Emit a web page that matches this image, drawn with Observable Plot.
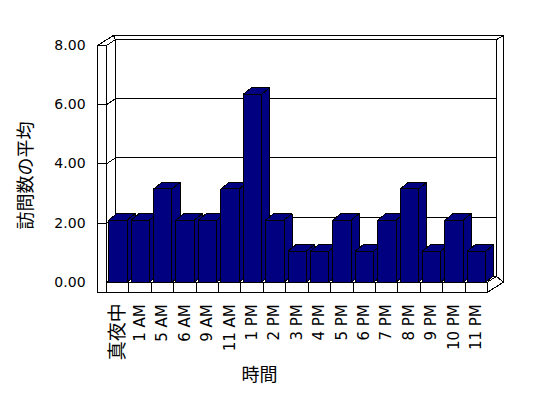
<!DOCTYPE html>
<html><head><meta charset="utf-8">
<script src="https://cdn.jsdelivr.net/npm/d3@7"></script>
<script src="https://cdn.jsdelivr.net/npm/@observablehq/plot@0.6"></script>
<style>body{margin:0;background:#fff}</style>
</head><body><div id="chart"></div>
<script>
const categories = ["真夜中","1 AM","5 AM","6 AM","9 AM","11 AM","1 PM","2 PM","3 PM","4 PM","5 PM","6 PM","7 PM","8 PM","9 PM","10 PM","11 PM"];
const visits = [2.1,2.1,3.15,2.1,2.1,3.15,6.35,2.1,1.05,1.05,2.1,1.05,2.1,3.15,1.05,2.1,1.05];
const yTicks = [0,2,4,6,8];
const xTitle = "時間";
const yTitle = "訪問数の平均";

const NAVY = "#000080";
const LATIN = "'DejaVu Sans', sans-serif";
const CJK = "'Noto Sans CJK JP', sans-serif";
// 3D depth geometry (data units)
const WX = 0.4, WY = 0.2;      // inner wall depth
const OX = 0.71, OY = 0.34;    // outer wall depth
const FLOOR = -0.34;           // floor slab bottom
const LEFT = -0.9;             // left wall slab edge
const BL = -0.4, BR = 0.42, BX = 0.36, BY = 0.22; // bar geometry
const n = categories.length;
const x0 = -0.5, x1 = n - 0.5, yMax = yTicks[yTicks.length - 1];

const poly = (id, pts) => pts.concat([pts[0]]).map(([x, y]) => ({id, x, y}));

const backFaces = [
  ...poly("back", [[x0+WX, WY],[x1+WX, WY],[x1+WX, yMax+WY],[x0+WX, yMax+WY]]),
  ...poly("leftWall", [[x0,0],[x0,yMax],[x0+WX,yMax+WY],[x0+WX,WY]]),
  ...poly("floorTop", [[x0,0],[x1,0],[x1+WX,WY],[x0+WX,WY]]),
  ...poly("leftTop", [[LEFT,yMax],[x0,yMax],[x0+WX,yMax+WY],[LEFT+OX,yMax+OY]]),
  ...poly("backTop", [[LEFT+OX,yMax+OY],[x1+OX,yMax+OY],[x1+WX,yMax+WY],[x0+WX,yMax+WY]]),
  ...poly("backRight", [[x1+WX,yMax+WY],[x1+OX,yMax+OY],[x1+OX,FLOOR+OY],[x1+WX,WY]]),
  ...poly("floorRight", [[x1,0],[x1+WX,WY],[x1+OX,FLOOR+OY],[x1,FLOOR]])
];
const frontFaces = [
  ...poly("leftStrip", [[LEFT,FLOOR],[x0,FLOOR],[x0,yMax],[LEFT,yMax]]),
  ...poly("floorStrip", [[x0,FLOOR],[x1,FLOOR],[x1,0],[x0,0]])
];
const barFaces = visits.flatMap((v, i) => [
  ...poly(`s${i}`, [[i+BR,0],[i+BR+BX,BY],[i+BR+BX,v+BY],[i+BR,v]]),
  ...poly(`t${i}`, [[i+BL,v],[i+BR,v],[i+BR+BX,v+BY],[i+BL+BX,v+BY]]),
  ...poly(`f${i}`, [[i+BL,0],[i+BR,0],[i+BR,v],[i+BL,v]])
]);
const grid = yTicks.filter(t => t > 0 && t < yMax);
const boundaries = d3.range(1, n).map(i => i - 0.5);
const isCJK = d => /[^\x00-\x7f]/.test(d);

const lineOpts = {x: "x", y: "y", z: "id", stroke: "black", strokeWidth: 1, strokeLinejoin: "miter", shapeRendering: "crispEdges"};

const chart = Plot.plot({
  width: 548, height: 398,
  marginLeft: 0, marginRight: 0, marginTop: 0, marginBottom: 0,
  x: {domain: [x0, x1], range: [106, 487], axis: null},
  y: {domain: [0, yMax], range: [281.7, 45], axis: null},
  style: {background: "white"},
  marks: [
    Plot.line(backFaces, {...lineOpts, fill: "white"}),
    Plot.ruleY(grid, {y: d => d + WY, x1: x0 + WX, x2: x1 + WX, stroke: "black", shapeRendering: "crispEdges"}),
    Plot.link(grid, {x1: x0, y1: d => d, x2: x0 + WX, y2: d => d + WY, stroke: "black", shapeRendering: "crispEdges"}),
    Plot.line(barFaces, {...lineOpts, fill: NAVY}),
    Plot.line(frontFaces, {...lineOpts, fill: "white"}),
    Plot.ruleY(grid, {x1: LEFT, x2: x0, stroke: "black", shapeRendering: "crispEdges"}),
    Plot.ruleX(boundaries, {y1: FLOOR, y2: 0, stroke: "black", shapeRendering: "crispEdges"}),
    Plot.text(yTicks, {x: LEFT, y: d => d, text: d => d.toFixed(2), textAnchor: "end", dx: -12, fontSize: 14, fontFamily: LATIN, fill: "black"}),
    Plot.text(categories, {filter: d => !isCJK(d), x: (d, i) => i, y: FLOOR, text: d => d, rotate: -90, textAnchor: "end", lineAnchor: "middle", dy: 12, fontSize: 15, fontFamily: LATIN, fill: "black"}),
    Plot.text(categories, {filter: d => isCJK(d), x: (d, i) => i, y: FLOOR, text: d => d, rotate: -90, textAnchor: "end", lineAnchor: "middle", dy: 11, fontSize: 19, fontFamily: CJK, fill: "black"}),
    Plot.text([yTitle], {frameAnchor: "left", dx: 26, dy: -24, rotate: -90, textAnchor: "middle", lineAnchor: "middle", fontSize: 18, fontFamily: CJK, fill: "black"}),
    Plot.text([xTitle], {frameAnchor: "bottom", dx: -15, dy: -23, textAnchor: "middle", lineAnchor: "middle", fontSize: 18, fontFamily: CJK, fill: "black"})
  ]
});
document.getElementById("chart").append(chart);
</script>
</body></html>
